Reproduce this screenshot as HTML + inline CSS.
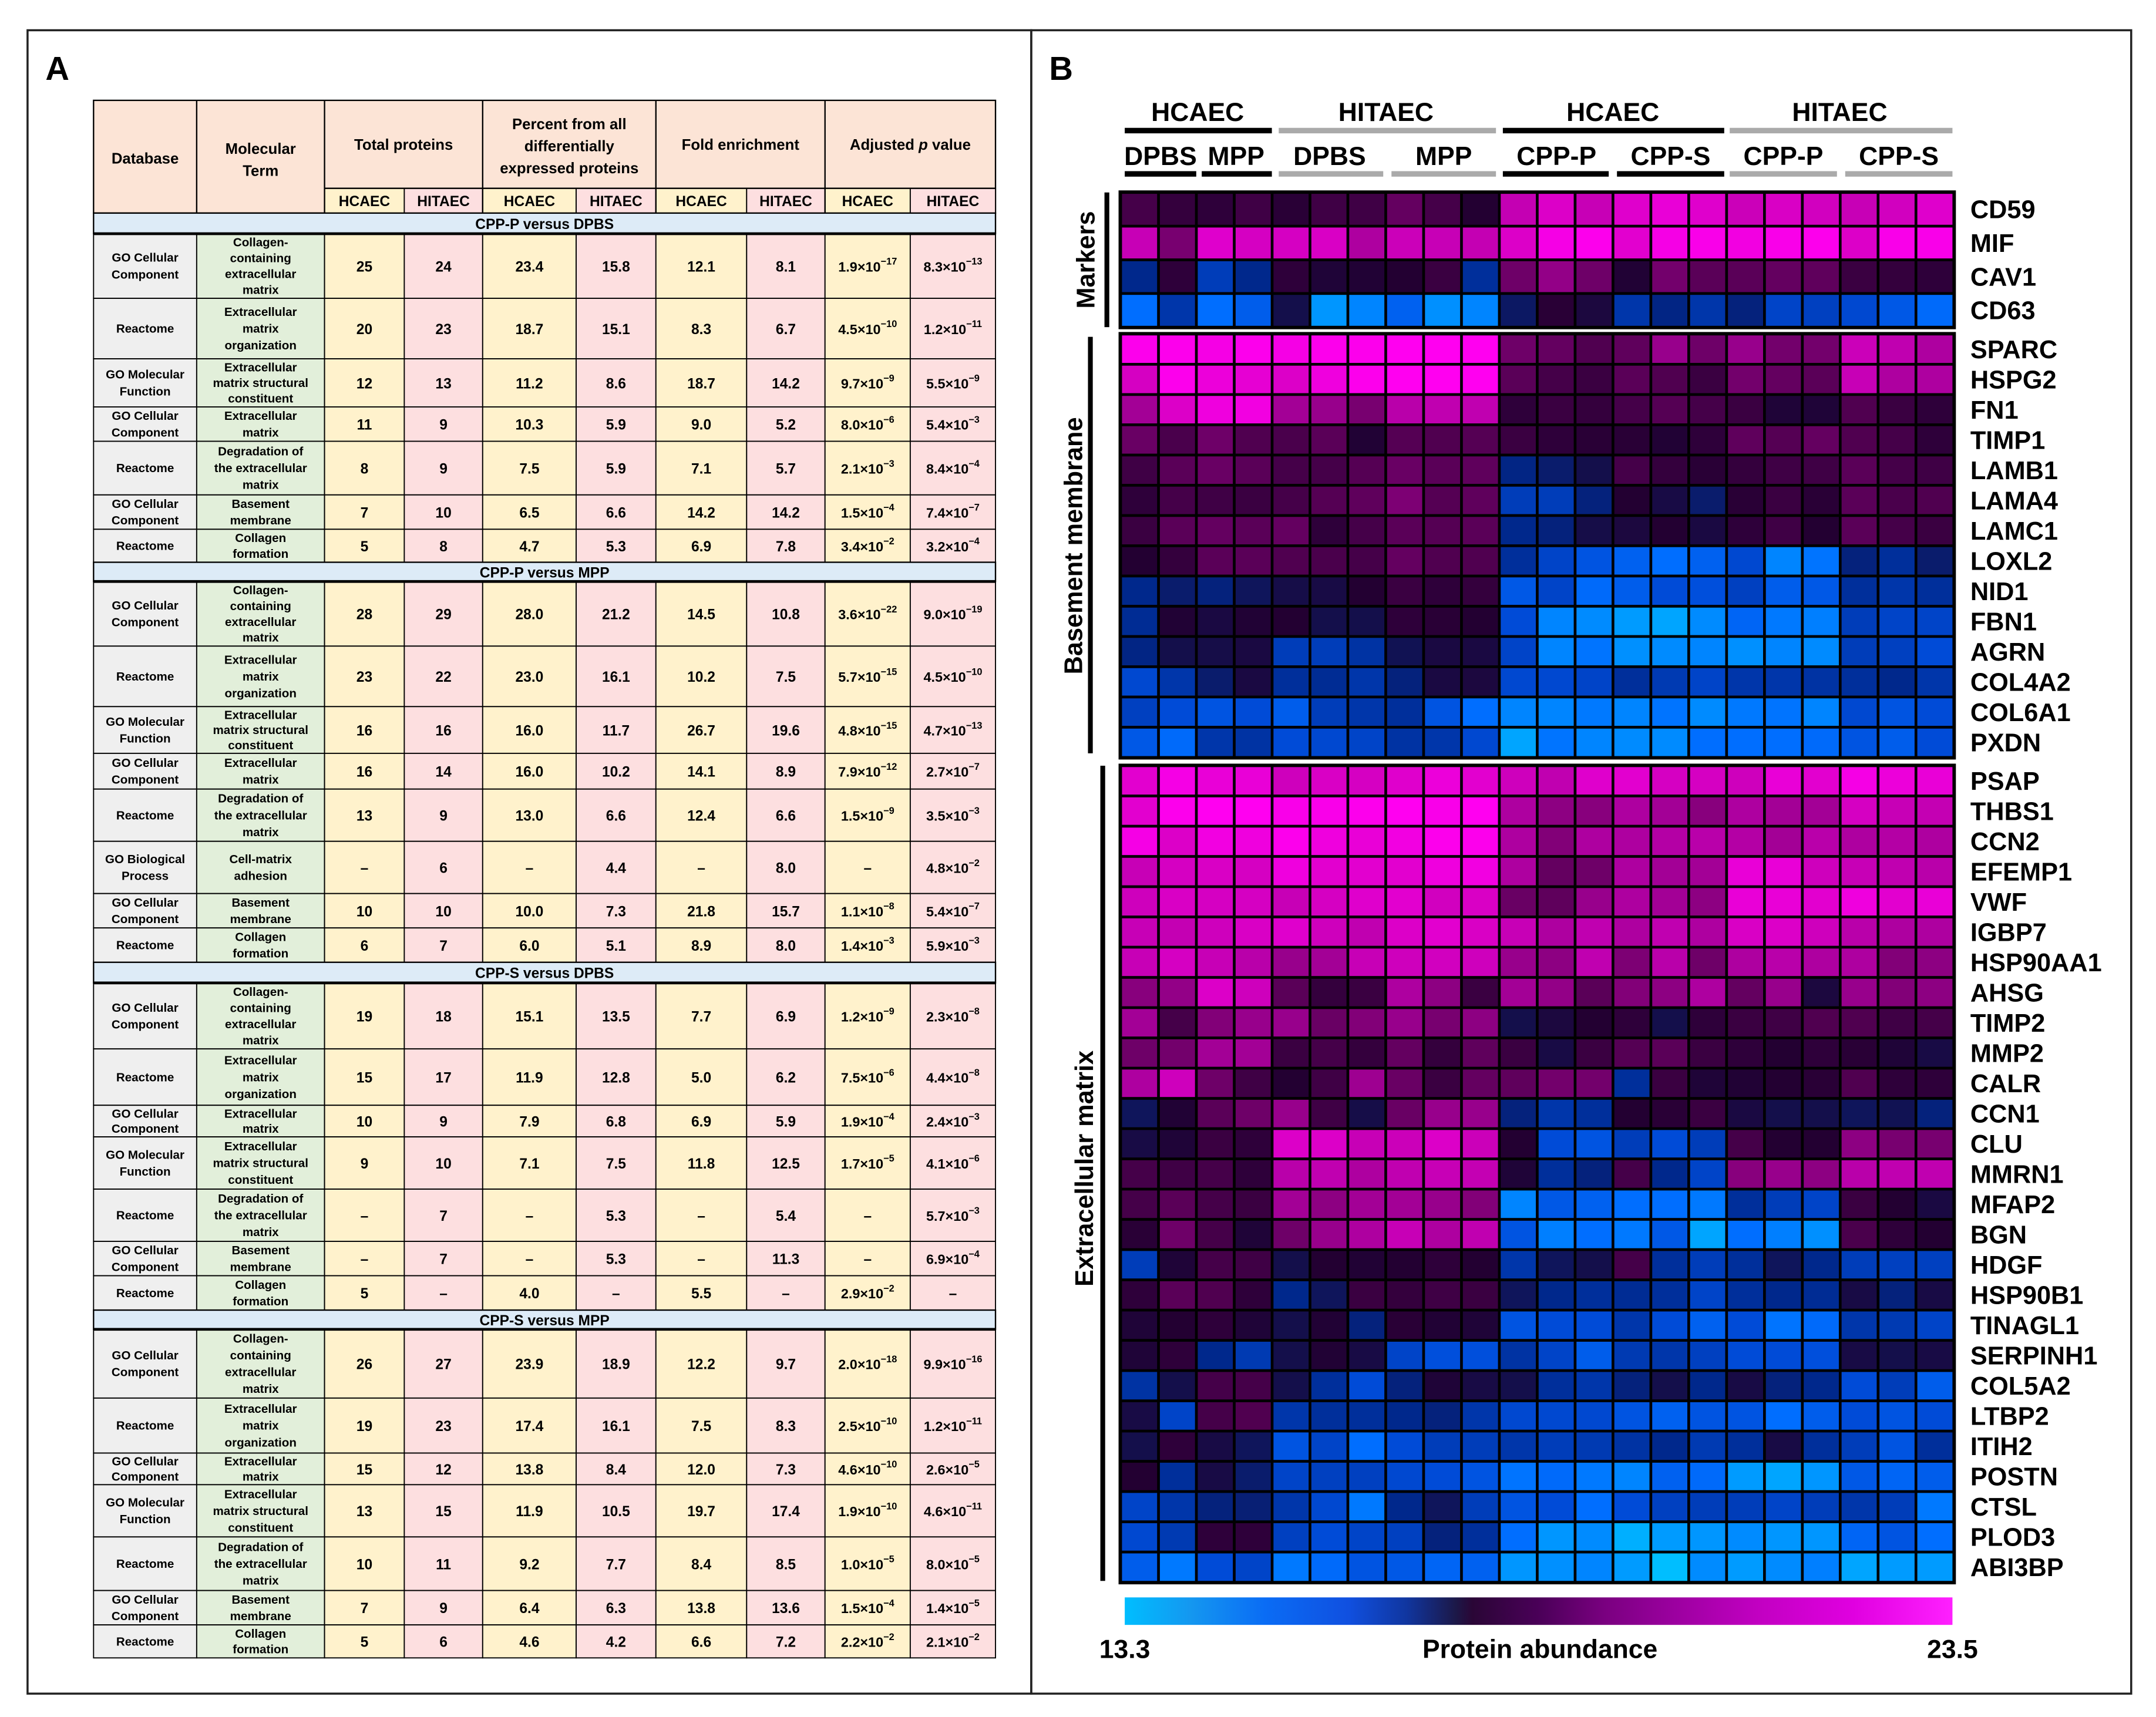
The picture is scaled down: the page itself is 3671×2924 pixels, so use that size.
<!DOCTYPE html>
<html><head><meta charset="utf-8">
<style>
html,body{margin:0;padding:0;background:#fff;}
svg{display:block;font-family:"Liberation Sans",Arial,sans-serif;}
</style></head>
<body>
<svg id="fig" xmlns="http://www.w3.org/2000/svg" width="3671" height="2924" viewBox="0 0 1568 1249">
<rect x="0" y="0" width="1568" height="1249" fill="#fff"/>
<rect x="20" y="22" width="730" height="1210" fill="none" stroke="#222" stroke-width="1.5"/>
<rect x="750" y="22" width="800" height="1210" fill="none" stroke="#222" stroke-width="1.5"/>
<text x="33" y="58" font-size="24" font-weight="bold">A</text>
<text x="763" y="58" font-size="24" font-weight="bold">B</text>
<g id="table"></g>
<g id="heat"></g>
</svg>
<script>
// ---------------- TABLE DATA ----------------
const sectionTitles = ["CPP-P versus DPBS","CPP-P versus MPP","CPP-S versus DPBS","CPP-S versus MPP"];
const sec1 = [
 ["GO Cellular|Component","Collagen-|containing|extracellular|matrix","25","24","23.4","15.8","12.1","8.1","1.9|17","8.3|13"],
 ["Reactome","Extracellular|matrix|organization","20","23","18.7","15.1","8.3","6.7","4.5|10","1.2|11"],
 ["GO Molecular|Function","Extracellular|matrix structural|constituent","12","13","11.2","8.6","18.7","14.2","9.7|9","5.5|9"],
 ["GO Cellular|Component","Extracellular|matrix","11","9","10.3","5.9","9.0","5.2","8.0|6","5.4|3"],
 ["Reactome","Degradation of|the extracellular|matrix","8","9","7.5","5.9","7.1","5.7","2.1|3","8.4|4"],
 ["GO Cellular|Component","Basement|membrane","7","10","6.5","6.6","14.2","14.2","1.5|4","7.4|7"],
 ["Reactome","Collagen|formation","5","8","4.7","5.3","6.9","7.8","3.4|2","3.2|4"]];
const sec2 = [
 ["GO Cellular|Component","Collagen-|containing|extracellular|matrix","28","29","28.0","21.2","14.5","10.8","3.6|22","9.0|19"],
 ["Reactome","Extracellular|matrix|organization","23","22","23.0","16.1","10.2","7.5","5.7|15","4.5|10"],
 ["GO Molecular|Function","Extracellular|matrix structural|constituent","16","16","16.0","11.7","26.7","19.6","4.8|15","4.7|13"],
 ["GO Cellular|Component","Extracellular|matrix","16","14","16.0","10.2","14.1","8.9","7.9|12","2.7|7"],
 ["Reactome","Degradation of|the extracellular|matrix","13","9","13.0","6.6","12.4","6.6","1.5|9","3.5|3"],
 ["GO Biological|Process","Cell-matrix|adhesion","–","6","–","4.4","–","8.0","–","4.8|2"],
 ["GO Cellular|Component","Basement|membrane","10","10","10.0","7.3","21.8","15.7","1.1|8","5.4|7"],
 ["Reactome","Collagen|formation","6","7","6.0","5.1","8.9","8.0","1.4|3","5.9|3"]];
const sec3 = [
 ["GO Cellular|Component","Collagen-|containing|extracellular|matrix","19","18","15.1","13.5","7.7","6.9","1.2|9","2.3|8"],
 ["Reactome","Extracellular|matrix|organization","15","17","11.9","12.8","5.0","6.2","7.5|6","4.4|8"],
 ["GO Cellular|Component","Extracellular|matrix","10","9","7.9","6.8","6.9","5.9","1.9|4","2.4|3"],
 ["GO Molecular|Function","Extracellular|matrix structural|constituent","9","10","7.1","7.5","11.8","12.5","1.7|5","4.1|6"],
 ["Reactome","Degradation of|the extracellular|matrix","–","7","–","5.3","–","5.4","–","5.7|3"],
 ["GO Cellular|Component","Basement|membrane","–","7","–","5.3","–","11.3","–","6.9|4"],
 ["Reactome","Collagen|formation","5","–","4.0","–","5.5","–","2.9|2","–"]];
const sec4 = [
 ["GO Cellular|Component","Collagen-|containing|extracellular|matrix","26","27","23.9","18.9","12.2","9.7","2.0|18","9.9|16"],
 ["Reactome","Extracellular|matrix|organization","19","23","17.4","16.1","7.5","8.3","2.5|10","1.2|11"],
 ["GO Cellular|Component","Extracellular|matrix","15","12","13.8","8.4","12.0","7.3","4.6|10","2.6|5"],
 ["GO Molecular|Function","Extracellular|matrix structural|constituent","13","15","11.9","10.5","19.7","17.4","1.9|10","4.6|11"],
 ["Reactome","Degradation of|the extracellular|matrix","10","11","9.2","7.7","8.4","8.5","1.0|5","8.0|5"],
 ["GO Cellular|Component","Basement|membrane","7","9","6.4","6.3","13.8","13.6","1.5|4","1.4|5"],
 ["Reactome","Collagen|formation","5","6","4.6","4.2","6.6","7.2","2.2|2","2.1|2"]];

// ---------------- HEATMAP DATA ----------------
const conditions = ["DPBS","DPBS","MPP","MPP","DPBS","DPBS","DPBS","MPP","MPP","MPP","CPP-P","CPP-P","CPP-P","CPP-S","CPP-S","CPP-S","CPP-P","CPP-P","CPP-P","CPP-S","CPP-S","CPP-S"];
const markerGenes = ["CD59","MIF","CAV1","CD63"];
const markerValues = [
 [19.0,18.7,18.6,18.9,18.5,18.9,18.9,19.6,19.0,18.4,21.5,22.2,21.6,22.3,22.6,22.3,21.7,22.1,21.9,21.6,21.9,22.3],
 [21.6,20.0,22.3,22.0,22.0,22.1,21.0,21.7,21.6,21.5,22.2,23.0,23.2,22.4,23.0,23.1,22.9,23.1,23.2,22.2,23.1,23.1],
 [16.8,18.6,16.2,16.8,18.6,18.2,18.3,18.4,18.8,16.6,19.8,20.5,19.8,18.3,19.9,19.4,19.4,19.6,19.5,18.8,18.7,18.6],
 [15.0,16.4,15.0,15.4,17.6,14.3,14.6,15.3,14.4,14.6,17.3,18.5,18.0,16.4,16.9,16.4,17.0,16.0,16.1,15.9,15.5,15.1]];
const bmGenes = ["SPARC","HSPG2","FN1","TIMP1","LAMB1","LAMA4","LAMC1","LOXL2","NID1","FBN1","AGRN","COL4A2","COL6A1","PXDN"];
const bmValues = [
 [23.2,23.2,23.0,23.2,23.0,23.2,23.2,23.3,23.3,23.3,19.8,19.6,19.2,19.5,20.6,19.8,20.6,19.9,19.9,21.7,21.4,21.0],
 [22.0,23.2,22.7,22.5,22.2,22.8,23.2,23.3,23.3,23.3,19.4,19.0,18.8,19.4,19.2,18.8,19.9,19.6,19.4,21.6,21.0,21.0],
 [20.8,22.2,22.8,22.9,20.8,20.6,20.0,21.2,21.4,21.4,18.6,18.8,18.7,19.0,19.3,19.0,18.8,18.2,18.2,19.2,18.8,18.6],
 [19.7,19.1,19.8,19.2,19.1,19.4,18.3,19.3,19.2,19.3,18.8,18.6,18.5,18.5,18.3,18.6,19.5,19.3,19.6,19.2,19.0,18.6],
 [18.9,19.4,19.7,19.4,19.0,19.0,19.3,19.7,19.4,19.5,16.9,17.2,17.6,19.0,18.7,18.5,18.7,18.9,18.9,19.4,19.0,18.9],
 [18.6,19.0,18.9,18.8,19.0,19.3,19.5,20.1,19.3,19.5,16.2,16.2,17.0,18.4,17.8,17.2,18.5,18.8,18.5,19.4,19.1,19.2],
 [18.8,19.4,19.6,19.4,19.6,18.6,19.0,19.4,19.3,19.4,16.8,17.0,17.7,18.0,18.4,17.9,18.6,18.9,18.4,19.4,19.0,18.8],
 [18.4,18.7,19.4,19.4,19.2,19.1,19.0,19.6,19.2,19.2,16.6,16.0,15.6,15.3,15.0,15.3,15.9,14.6,14.9,17.0,16.6,17.2],
 [16.8,17.2,17.0,17.4,17.7,17.8,18.4,18.8,18.6,18.7,15.5,16.0,15.1,15.4,15.8,15.7,16.1,15.4,15.5,16.6,16.4,16.6],
 [16.7,18.3,17.9,18.3,18.4,17.6,17.6,18.6,18.5,18.4,15.8,14.6,14.5,14.2,14.0,14.5,15.2,14.8,14.7,16.2,16.0,16.0],
 [16.9,17.6,17.7,17.9,16.2,16.2,16.5,17.5,17.9,17.9,16.0,14.6,14.9,14.4,14.5,14.6,14.4,14.6,14.5,16.2,16.1,15.8],
 [15.9,16.4,17.2,17.9,16.6,16.7,16.4,17.0,17.9,18.0,15.9,15.9,16.0,16.6,16.3,16.0,16.4,16.4,16.5,16.6,16.8,16.4],
 [16.1,15.8,15.6,15.8,15.4,16.2,16.4,16.6,15.6,15.0,14.6,14.6,14.8,14.6,14.9,14.5,14.8,14.9,14.6,15.9,15.6,15.8],
 [15.5,15.1,16.4,16.5,15.8,15.9,16.0,16.5,16.4,15.9,14.0,14.9,14.6,14.5,14.5,15.0,15.0,15.0,15.1,15.6,15.4,15.8]];
const ecmGenes = ["PSAP","THBS1","CCN2","EFEMP1","VWF","IGBP7","HSP90AA1","AHSG","TIMP2","MMP2","CALR","CCN1","CLU","MMRN1","MFAP2","BGN","HDGF","HSP90B1","TINAGL1","SERPINH1","COL5A2","LTBP2","ITIH2","POSTN","CTSL","PLOD3","ABI3BP"];
const ecmValues = [
 [22.4,23.0,22.6,22.6,21.8,22.1,22.0,22.3,22.7,22.4,21.8,21.4,22.3,22.4,22.0,22.0,21.8,22.6,22.4,23.0,22.7,22.6],
 [22.4,23.2,23.3,23.3,23.1,23.1,23.2,23.4,23.1,23.5,21.0,20.4,20.3,21.0,20.8,20.3,21.0,20.8,20.8,22.0,21.6,21.5],
 [23.0,22.2,22.9,22.8,23.2,22.8,22.6,22.9,23.2,23.2,21.0,20.2,21.0,21.0,21.1,21.2,21.1,20.8,21.2,21.0,21.1,21.0],
 [21.6,22.0,22.1,22.0,22.8,22.4,22.4,22.4,22.8,22.9,21.0,19.6,19.8,21.0,20.8,20.8,22.6,22.6,21.8,21.6,21.4,21.2],
 [21.8,22.1,22.0,22.0,21.6,22.0,22.3,22.4,21.9,22.1,19.7,19.5,20.6,21.0,20.8,20.4,22.6,22.6,22.4,22.8,22.4,22.6],
 [21.6,21.5,21.8,22.1,22.3,21.8,21.4,22.2,22.4,22.1,21.6,21.0,21.4,21.0,21.4,21.0,22.1,22.2,21.8,21.2,21.0,21.0],
 [21.6,22.0,21.6,21.2,20.6,20.8,21.6,21.8,21.9,21.8,20.6,20.4,21.4,20.1,21.2,19.8,21.0,21.2,21.0,21.0,20.2,20.4],
 [20.3,20.5,22.2,21.8,19.4,18.7,18.8,21.0,20.4,18.8,20.8,20.5,19.4,20.2,20.4,21.0,19.6,20.6,18.0,20.6,20.2,20.4],
 [20.8,19.0,20.2,20.6,20.6,19.7,20.2,20.6,20.0,20.4,17.6,18.0,18.4,18.6,17.6,18.6,18.8,18.9,19.2,19.2,18.9,19.0],
 [19.8,19.9,20.8,20.8,18.8,19.0,18.7,19.6,18.7,19.5,18.8,17.8,18.8,19.3,19.4,18.8,18.6,18.4,18.6,18.5,18.2,17.8],
 [21.0,21.8,19.8,18.9,18.4,18.9,20.7,19.7,18.8,19.6,19.5,19.9,19.9,16.6,18.8,18.2,18.3,18.4,18.5,19.2,18.6,18.6],
 [17.4,18.3,19.4,19.8,20.6,18.9,17.7,19.7,20.6,20.6,17.0,16.4,16.6,18.4,18.5,18.8,17.9,17.6,17.6,17.4,17.5,17.0],
 [17.8,18.2,18.8,18.6,22.2,22.2,21.6,21.7,22.2,21.7,18.4,15.8,15.6,16.2,15.8,16.2,19.0,18.4,18.4,20.4,20.0,20.0],
 [19.0,18.9,19.0,18.6,21.2,21.4,21.0,21.4,21.6,21.5,18.2,16.6,17.0,19.0,16.8,16.0,20.3,20.6,20.4,21.2,21.4,21.4],
 [19.0,19.4,19.0,18.8,20.8,20.4,20.8,20.8,20.6,20.2,14.6,15.5,15.3,15.0,15.0,14.8,16.6,16.2,16.0,18.8,18.4,17.9],
 [18.5,19.8,19.0,18.2,19.8,20.6,21.0,21.6,21.0,21.4,15.6,14.7,15.0,14.8,15.5,14.0,15.0,14.7,14.4,19.1,18.6,18.4],
 [16.2,18.2,19.0,18.9,17.6,18.4,18.3,18.4,18.6,18.4,16.4,17.4,17.6,19.0,16.6,16.2,16.6,17.4,16.8,16.2,16.1,16.1],
 [18.6,19.4,19.2,18.6,16.8,17.4,18.8,18.7,18.9,18.8,17.4,16.8,16.6,16.7,16.6,16.0,16.6,16.8,16.7,17.8,17.0,17.8],
 [18.2,18.4,18.6,18.2,17.6,18.3,17.0,18.5,18.3,18.2,15.6,15.8,15.8,16.4,15.8,15.3,15.8,14.9,15.1,16.4,16.3,16.0],
 [18.2,18.6,16.8,16.3,17.6,18.3,17.8,16.0,15.7,15.7,16.5,16.0,15.4,16.3,16.4,16.1,15.8,15.8,15.7,17.8,17.6,17.8],
 [16.5,17.6,19.0,19.0,17.6,16.6,15.8,17.0,18.2,17.8,17.6,16.6,16.4,17.0,17.6,16.8,17.8,17.0,16.8,15.8,16.2,15.4],
 [17.8,16.0,19.0,19.2,16.4,16.6,16.6,16.8,17.0,16.4,15.9,15.9,15.9,15.6,15.3,15.6,15.6,15.0,15.4,15.8,15.6,15.8],
 [17.6,18.6,17.8,17.4,15.6,16.0,15.0,15.8,16.2,16.2,16.4,16.2,16.3,16.5,16.8,16.3,16.6,17.8,16.6,16.2,15.6,16.6],
 [18.4,16.6,17.8,17.2,16.0,16.1,16.1,15.9,15.8,15.6,14.9,15.1,14.8,14.6,15.3,15.1,14.2,14.0,14.3,15.5,15.2,15.4],
 [16.0,16.4,17.0,17.1,16.4,15.9,14.8,16.8,17.4,16.2,15.6,15.8,15.0,15.8,16.1,16.2,16.2,16.0,16.2,16.4,16.2,14.8],
 [15.9,16.3,18.6,18.6,16.1,15.8,16.0,16.1,17.0,16.6,15.0,14.3,14.5,13.8,14.2,14.3,14.5,14.3,14.3,15.2,15.6,15.0],
 [15.4,14.8,15.8,16.0,14.8,15.1,15.6,15.5,15.2,15.3,14.3,14.4,14.6,14.2,13.5,14.5,14.2,14.5,14.7,14.0,14.2,14.2]];
const scaleMin = 13.3, scaleMax = 23.5;

const NS = "http://www.w3.org/2000/svg";
function mk(parent, tag, attrs, txt){
  const e = document.createElementNS(NS, tag);
  for (const k in attrs) e.setAttribute(k, attrs[k]);
  if (txt !== undefined) e.textContent = txt;
  parent.appendChild(e);
  return e;
}

// ---------------- TABLE DRAW ----------------
const tbl = document.getElementById("table");
const colX = [68,143,236,294,351,419,477,543,600,662,724];
const colFill = ["#efefef","#e2efda","#fff2cc","#fddfe0","#fff2cc","#fddfe0","#fff2cc","#fddfe0","#fff2cc","#fddfe0"];
let hdr = mk(tbl,"rect",{x:68,y:73,width:656,height:82,fill:"#fce4d6",stroke:"#000","stroke-width":1});


for (let i=2;i<10;i++){
  const r = mk(tbl,"rect",{x:colX[i],y:137,width:colX[i+1]-colX[i],height:18,fill:colFill[i],stroke:"#000","stroke-width":0.8});
  
  
}
[[143,73,155],[236,73,155],[351,73,155],[477,73,155],[600,73,155]].forEach(l=>mk(tbl,"line",{x1:l[0],y1:l[1],x2:l[0],y2:l[2],stroke:"#000","stroke-width":1}));
mk(tbl,"line",{x1:236,y1:137,x2:724,y2:137,stroke:"#000","stroke-width":1});
const hTexts = [[105.5,[ "Database"],119],[189.5,["Molecular","Term"],112],[293.5,["Total proteins"],109],[414,["Percent from all","differentially","expressed proteins"],94],[538.5,["Fold enrichment"],109]];
hTexts.forEach(h=>{
  h[1].forEach((s,i)=>{
    const t = mk(tbl,"text",{x:h[0],y:h[2]+i*16,"text-anchor":"middle","font-size":11,"font-weight":"bold"},s);
    
    
  });
});
let ap = mk(tbl,"text",{x:662,y:109,"text-anchor":"middle","font-size":11,"font-weight":"bold"});


ap.innerHTML = 'Adjusted <tspan font-style="italic">p</tspan> value';
for (let i=2;i<10;i++){
  const t = mk(tbl,"text",{x:(colX[i]+colX[i+1])/2,y:150,"text-anchor":"middle","font-size":10.5,"font-weight":"bold"}, i%2===0?"HCAEC":"HITAEC");
  
  
}
const sections = [sec1,sec2,sec3,sec4];
const titleY = [155,409,700,953];
const rowB = [[170,217,261,296,321,360,385,409],[423,470,514,548,574,612,650,675,700],[715,763,804,827,865,903,928,953],[967,1017,1057,1080,1118,1157,1182,1206]];
sections.forEach((sec,si)=>{
  const ty = titleY[si], th = rowB[si][0]-ty;
  const tr = mk(tbl,"rect",{x:68,y:ty,width:656,height:th,fill:"#ddebf7",stroke:"#000","stroke-width":1});
  
  
  const tt = mk(tbl,"text",{x:396,y:ty+th/2+4,"text-anchor":"middle","font-size":10.5,"font-weight":"bold"},sectionTitles[si]);
  
  
  sec.forEach((row,ri)=>{
    const y0 = rowB[si][ri], y1 = rowB[si][ri+1], h=y1-y0, cy=(y0+y1)/2;
    for (let c=0;c<10;c++){
      const r = mk(tbl,"rect",{x:colX[c],y:y0,width:colX[c+1]-colX[c],height:h,fill:colFill[c],stroke:"#000","stroke-width":0.8});
      
      
      const cx = (colX[c]+colX[c+1])/2;
      const v = row[c];
      if (c<2){
        const lines = v.split("|");
        const lh = Math.min(12.2, (h-1)/lines.length);
        lines.forEach((s,li)=>{
          const t = mk(tbl,"text",{x:cx,y:cy+(li-(lines.length-1)/2)*lh+3,"text-anchor":"middle","font-size":8.8,"font-weight":"bold"},s);
          
          
        });
      } else if (c>=8 && v.indexOf("|")>=0){
        const p = v.split("|");
        const t = mk(tbl,"text",{x:cx,y:cy+4,"text-anchor":"middle","font-size":10,"font-weight":"bold"});
        
        
        t.innerHTML = p[0]+'×10<tspan dy="-5" font-size="7">−'+p[1]+'</tspan>';
      } else {
        const t = mk(tbl,"text",{x:cx,y:cy+4,"text-anchor":"middle","font-size":10.5,"font-weight":"bold"},v);
        
        
      }
    }
  });
  mk(tbl,"line",{x1:68,y1:rowB[si][0],x2:724,y2:rowB[si][0],stroke:"#000","stroke-width":2});
});

// ---------------- HEATMAP DRAW ----------------
const hm = document.getElementById("heat");
const stops = [[13.5,[0,190,255]],[14.3,[0,150,255]],[15.0,[0,110,255]],[15.8,[0,75,215]],[16.8,[0,40,140]],[17.6,[20,15,75]],[18.4,[35,0,50]],[19.2,[80,0,80]],[20.2,[130,0,120]],[21.2,[185,0,170]],[22.2,[220,0,200]],[23.3,[255,0,240]]];
function colorOf(v){
  if (v<=stops[0][0]) return "rgb("+stops[0][1].join(",")+")";
  for (let i=1;i<stops.length;i++){
    if (v<=stops[i][0]){
      const a=stops[i-1], b=stops[i], t=(v-a[0])/(b[0]-a[0]);
      return "rgb("+[0,1,2].map(k=>Math.round(a[1][k]+(b[1][k]-a[1][k])*t)).join(",")+")";
    }
  }
  return "rgb("+stops[stops.length-1][1].join(",")+")";
}
const hx0 = 815, hx1 = 1421;
function xCol(i){ return hx0 + (hx1-hx0)*i/conditions.length; }
function drawBlock(genes, vals, y0, y1, name){
  const g = mk(hm,"g",{});
  
  
  mk(g,"rect",{x:hx0-1.5,y:y0-1.5,width:hx1-hx0+3,height:y1-y0+3,fill:"#000"});
  const rh = (y1-y0)/genes.length, cw=(hx1-hx0)/conditions.length;
  vals.forEach((row,ri)=>{
    row.forEach((v,ci)=>{
      const r = mk(g,"rect",{x:xCol(ci)+1,y:y0+ri*rh+1,width:cw-2,height:rh-2,fill:colorOf(v)});
      
      
    });
    const t = mk(g,"text",{x:1433,y:y0+ri*rh+rh/2+6.5,"font-size":18.5,"font-weight":"bold"},genes[ri]);
    
    
  });
}
drawBlock(markerGenes, markerValues, 140, 238, "markers-block");
drawBlock(bmGenes, bmValues, 243, 551, "basement-membrane-block");
drawBlock(ecmGenes, ecmValues, 557, 1151, "extracellular-matrix-block");

const sideLabels = [["Markers",796,189,805,140,238],["Basement membrane",787,397,793,245,548],["Extracellular matrix",795,850,802,557,1150]];
sideLabels.forEach(s=>{
  const t = mk(hm,"text",{x:s[1],y:s[2],"text-anchor":"middle","font-size":18.5,"font-weight":"bold",transform:"rotate(-90 "+s[1]+" "+s[2]+")"},s[0]);
  
  
  const l = mk(hm,"line",{x1:s[3],y1:s[4],x2:s[3],y2:s[5],stroke:"#000","stroke-width":3.5});
  
  
});

const topHeads = [["HCAEC",871,818,925,"#000"],["HITAEC",1008,930,1088,"#aaa"],["HCAEC",1173,1093,1254,"#000"],["HITAEC",1338,1258,1420,"#aaa"]];
topHeads.forEach(h=>{
  const t = mk(hm,"text",{x:h[1],y:88,"text-anchor":"middle","font-size":19,"font-weight":"bold"},h[0]);
  
  
  mk(hm,"rect",{x:h[2],y:93,width:h[3]-h[2],height:4,fill:h[4]});
});
const subHeads = [["DPBS",844,818,870,"#000"],["MPP",899,874,925,"#000"],["DPBS",967,930,1006,"#aaa"],["MPP",1050,1012,1088,"#aaa"],["CPP-P",1132,1093,1170,"#000"],["CPP-S",1215,1176,1254,"#000"],["CPP-P",1297,1258,1336,"#aaa"],["CPP-S",1381,1342,1420,"#aaa"]];
subHeads.forEach(h=>{
  const t = mk(hm,"text",{x:h[1],y:120,"text-anchor":"middle","font-size":19,"font-weight":"bold"},h[0]);
  
  
  mk(hm,"rect",{x:h[2],y:124.5,width:h[3]-h[2],height:4,fill:h[4]});
});

const defs = mk(hm,"defs",{});
const grad = mk(defs,"linearGradient",{id:"cbar",x1:"0",x2:"1",y1:"0",y2:"0"});
[[0,"#00beff"],[0.08,"#1497f0"],[0.17,"#0a6cf5"],[0.27,"#1050e0"],[0.34,"#1036a0"],[0.40,"#1c1848"],[0.42,"#2a0636"],[0.50,"#4a0058"],[0.58,"#7a0080"],[0.66,"#9a009e"],[0.76,"#c000c0"],[0.88,"#e000e0"],[1,"#ff20ff"]].forEach(s=>mk(grad,"stop",{offset:s[0],"stop-color":s[1]}));
const cb = mk(hm,"rect",{x:818,y:1162,width:602,height:20,fill:"url(#cbar)"});


const cbl = [[scaleMin.toFixed(1),818,"middle"],["Protein abundance",1120,"middle"],[scaleMax.toFixed(1),1420,"middle"]];
cbl.forEach(c=>{
  const t = mk(hm,"text",{x:c[1],y:1206,"text-anchor":c[2],"font-size":19,"font-weight":"bold"},c[0]);
  
  
});
</script>
</body></html>
